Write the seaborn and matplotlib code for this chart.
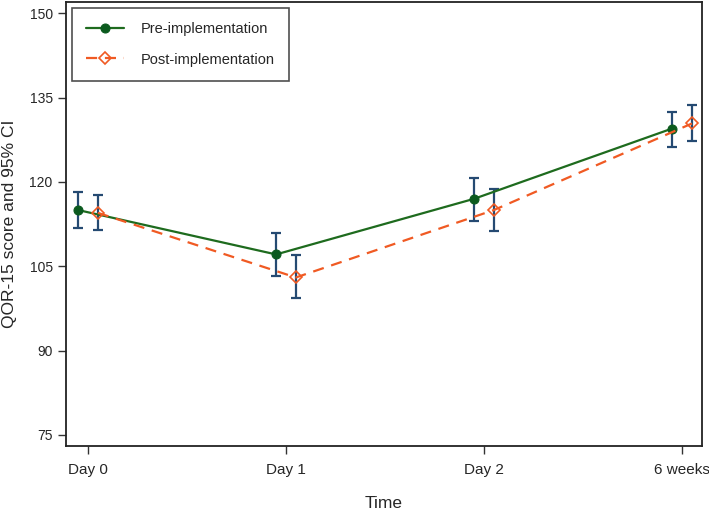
import numpy as np
import pandas as pd
import matplotlib
matplotlib.use("Agg")
import matplotlib.pyplot as plt
import seaborn as sns

# values
time_labels = ["Day 0", "Day 1", "Day 2", "6 weeks"]
pre_mean = [115.0, 107.1, 117.0, 129.5]
pre_low = [111.8, 103.2, 113.0, 126.3]
pre_high = [118.2, 110.9, 120.7, 132.5]
post_mean = [114.5, 103.0, 115.0, 130.4]
post_low = [111.4, 99.3, 111.3, 127.3]
post_high = [117.6, 107.0, 118.8, 133.6]

sns.set_style("white")
plt.rcParams['font.family'] = ['Liberation Sans', 'DejaVu Sans']

pos = np.arange(len(time_labels))
df = pd.DataFrame({
    "x": np.concatenate([pos - 0.05, pos + 0.05]),
    "score": pre_mean + post_mean,
    "low": pre_low + post_low,
    "high": pre_high + post_high,
    "group": ["Pre-implementation"] * 4 + ["Post-implementation"] * 4,
})

fig, ax = plt.subplots(figsize=(7.09, 5.11), dpi=100)
fig.subplots_adjust(left=0.093, right=0.990, top=0.996, bottom=0.127)

ci_color = "#254a72"
for _, r in df.iterrows():
    ax.errorbar(r["x"], r["score"], yerr=[[r["score"] - r["low"]], [r["high"] - r["score"]]],
                fmt="none", ecolor=ci_color, elinewidth=1.6, capsize=3.4, capthick=1.6, zorder=2)

pre = df[df["group"] == "Pre-implementation"]
post = df[df["group"] == "Post-implementation"]
sns.lineplot(data=pre, x="x", y="score", ax=ax, color="#1e6b1e", lw=1.6,
             marker="o", markersize=6.5, markerfacecolor="#0b5a1e", markeredgecolor="#0b5a1e",
             label="Pre-implementation", zorder=3, sort=False)
sns.lineplot(data=post, x="x", y="score", ax=ax, color="#f05a23", lw=1.6,
             linestyle=(0, (5, 3.5)), marker="D", markersize=6.5, markerfacecolor="none",
             markeredgecolor="#f05a23", markeredgewidth=1.2,
             label="Post-implementation", zorder=3, sort=False)

ax.set_xlim(-0.111, 3.10)
ax.set_ylim(73.0, 152.0)
ax.set_xticks(pos)
ax.set_xticklabels(time_labels, fontsize=11)
ax.set_yticks([75, 90, 105, 120, 135, 150])
ax.tick_params(axis="both", direction="out", length=6, width=1, color="#333333",
               bottom=True, left=True)
ax.tick_params(axis="y", labelsize=10)
ax.tick_params(axis="x", pad=6)
ax.set_xlabel("Time", fontsize=12.5, labelpad=14)
ax.set_ylabel("QOR-15 score and 95% CI", fontsize=12.5, labelpad=9)
for s in ax.spines.values():
    s.set_color("#222222")
    s.set_linewidth(1.3)

leg = ax.legend(loc="upper left", fontsize=10.5, frameon=True, fancybox=False,
                borderpad=1.0, labelspacing=1.1, handlelength=2.6, handletextpad=1.1,
                borderaxespad=0.4)
leg.get_frame().set_edgecolor("#222222")
leg.get_frame().set_linewidth(1.2)

fig.savefig("out.png", dpi=100)
